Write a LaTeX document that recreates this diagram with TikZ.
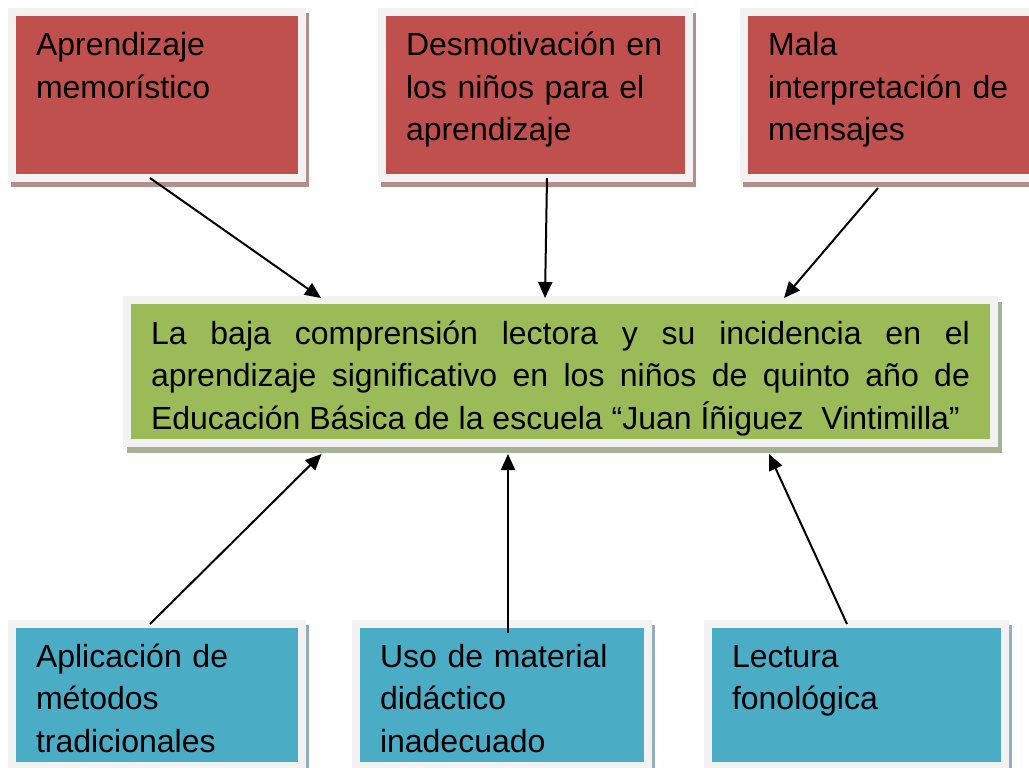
\documentclass[tikz,border=0pt]{standalone}
\usepackage{fontspec}
\setmainfont{Liberation Sans}
\usepackage{tikz}
\usetikzlibrary{positioning}
\usetikzlibrary{shadows}
\usetikzlibrary{arrows.meta}

\definecolor{causered}{HTML}{C0504D}
\definecolor{causeshade}{HTML}{B48E8C}
\definecolor{probgreen}{HTML}{9BBB59}
\definecolor{probshade}{HTML}{A7B294}
\definecolor{effectblue}{HTML}{4BACC6}
\definecolor{effectshade}{HTML}{93AFBB}
\definecolor{edgegray}{HTML}{F2F2F2}

\begin{document}
\begin{tikzpicture}[x=1pt, y=-1pt,
	box/.style={draw=edgegray, line width=8pt, outer sep=0pt, inner xsep=24pt, inner ysep=12pt,
		anchor=north west, font=\fontsize{32}{42.5}\selectfont},
	cause/.style={box, fill=causered, align=left, text height=32pt, text depth=110pt, text width=#1,
		drop shadow={shadow xshift=3pt, shadow yshift=-5pt, draw=causeshade, fill=causeshade, line width=8pt, opacity=1}},
	problem/.style={box, fill=probgreen, align=justify, text height=32pt, text depth=87pt, text width=#1,
		drop shadow={shadow xshift=4pt, shadow yshift=-6pt, draw=probshade, fill=probshade, line width=8pt, opacity=1}},
	effect/.style={box, fill=effectblue, align=left, text height=31pt, text depth=87pt, text width=#1,
		drop shadow={shadow xshift=3pt, shadow yshift=-5pt, draw=effectshade, fill=effectshade, line width=8pt, opacity=1}},
	arr/.style={line width=2pt, -{Triangle[length=16pt,width=14pt]}}]

	\useasboundingbox (0,0) rectangle (1029,768);

	% Causes %
	\node[cause=242pt] (c1) at (12,12) {Aprendizaje\\memorístico};
	\node[cause=259pt] (c2) at (382,12) {Desmotivación en\\los niños para el\\aprendizaje};
	\node[cause=262pt] (c3) at (744,12) {Mala\\interpretación de\\mensajes};
	% Problem %
	\node[problem=819pt] (prob) at (127,300) {\parfillskip=0pt La baja comprensión lectora y su incidencia en el\linebreak
		aprendizaje significativo en los niños de quinto año de\linebreak
		Educación Básica de la escuela “Juan Íñiguez\ \ Vintimilla”};
	% Effects %
	\node[effect=242pt] (e1) at (12,624) {Aplicación de\\métodos\\tradicionales};
	\node[effect=244pt] (e2) at (356,624) {Uso de material\\didáctico\\inadecuado};
	\node[effect=249pt] (e3) at (708,624) {Lectura\\fonológica};

	% Arrows %
	\draw[arr] ([xshift=-7pt]c1.south) -- ([xshift=-239.5pt,yshift=2pt]prob.north);
	\draw[arr] ([xshift=11.5pt]c2.south) -- ([xshift=-15.5pt,yshift=2pt]prob.north);
	\draw[arr] ([xshift=-21pt,yshift=-10pt]c3.south) -- ([xshift=223.5pt,yshift=2pt]prob.north);
	\draw[arr] ([xshift=-7pt]e1.north) -- ([xshift=-239pt,yshift=-11pt]prob.south);
	\draw[arr] ([xshift=6pt,yshift=-9pt]e2.north) -- ([xshift=-52.5pt,yshift=-11pt]prob.south);
	\draw[arr] ([xshift=-9.5pt]e3.north) -- ([xshift=208.5pt,yshift=-11pt]prob.south);
\end{tikzpicture}
\end{document}
